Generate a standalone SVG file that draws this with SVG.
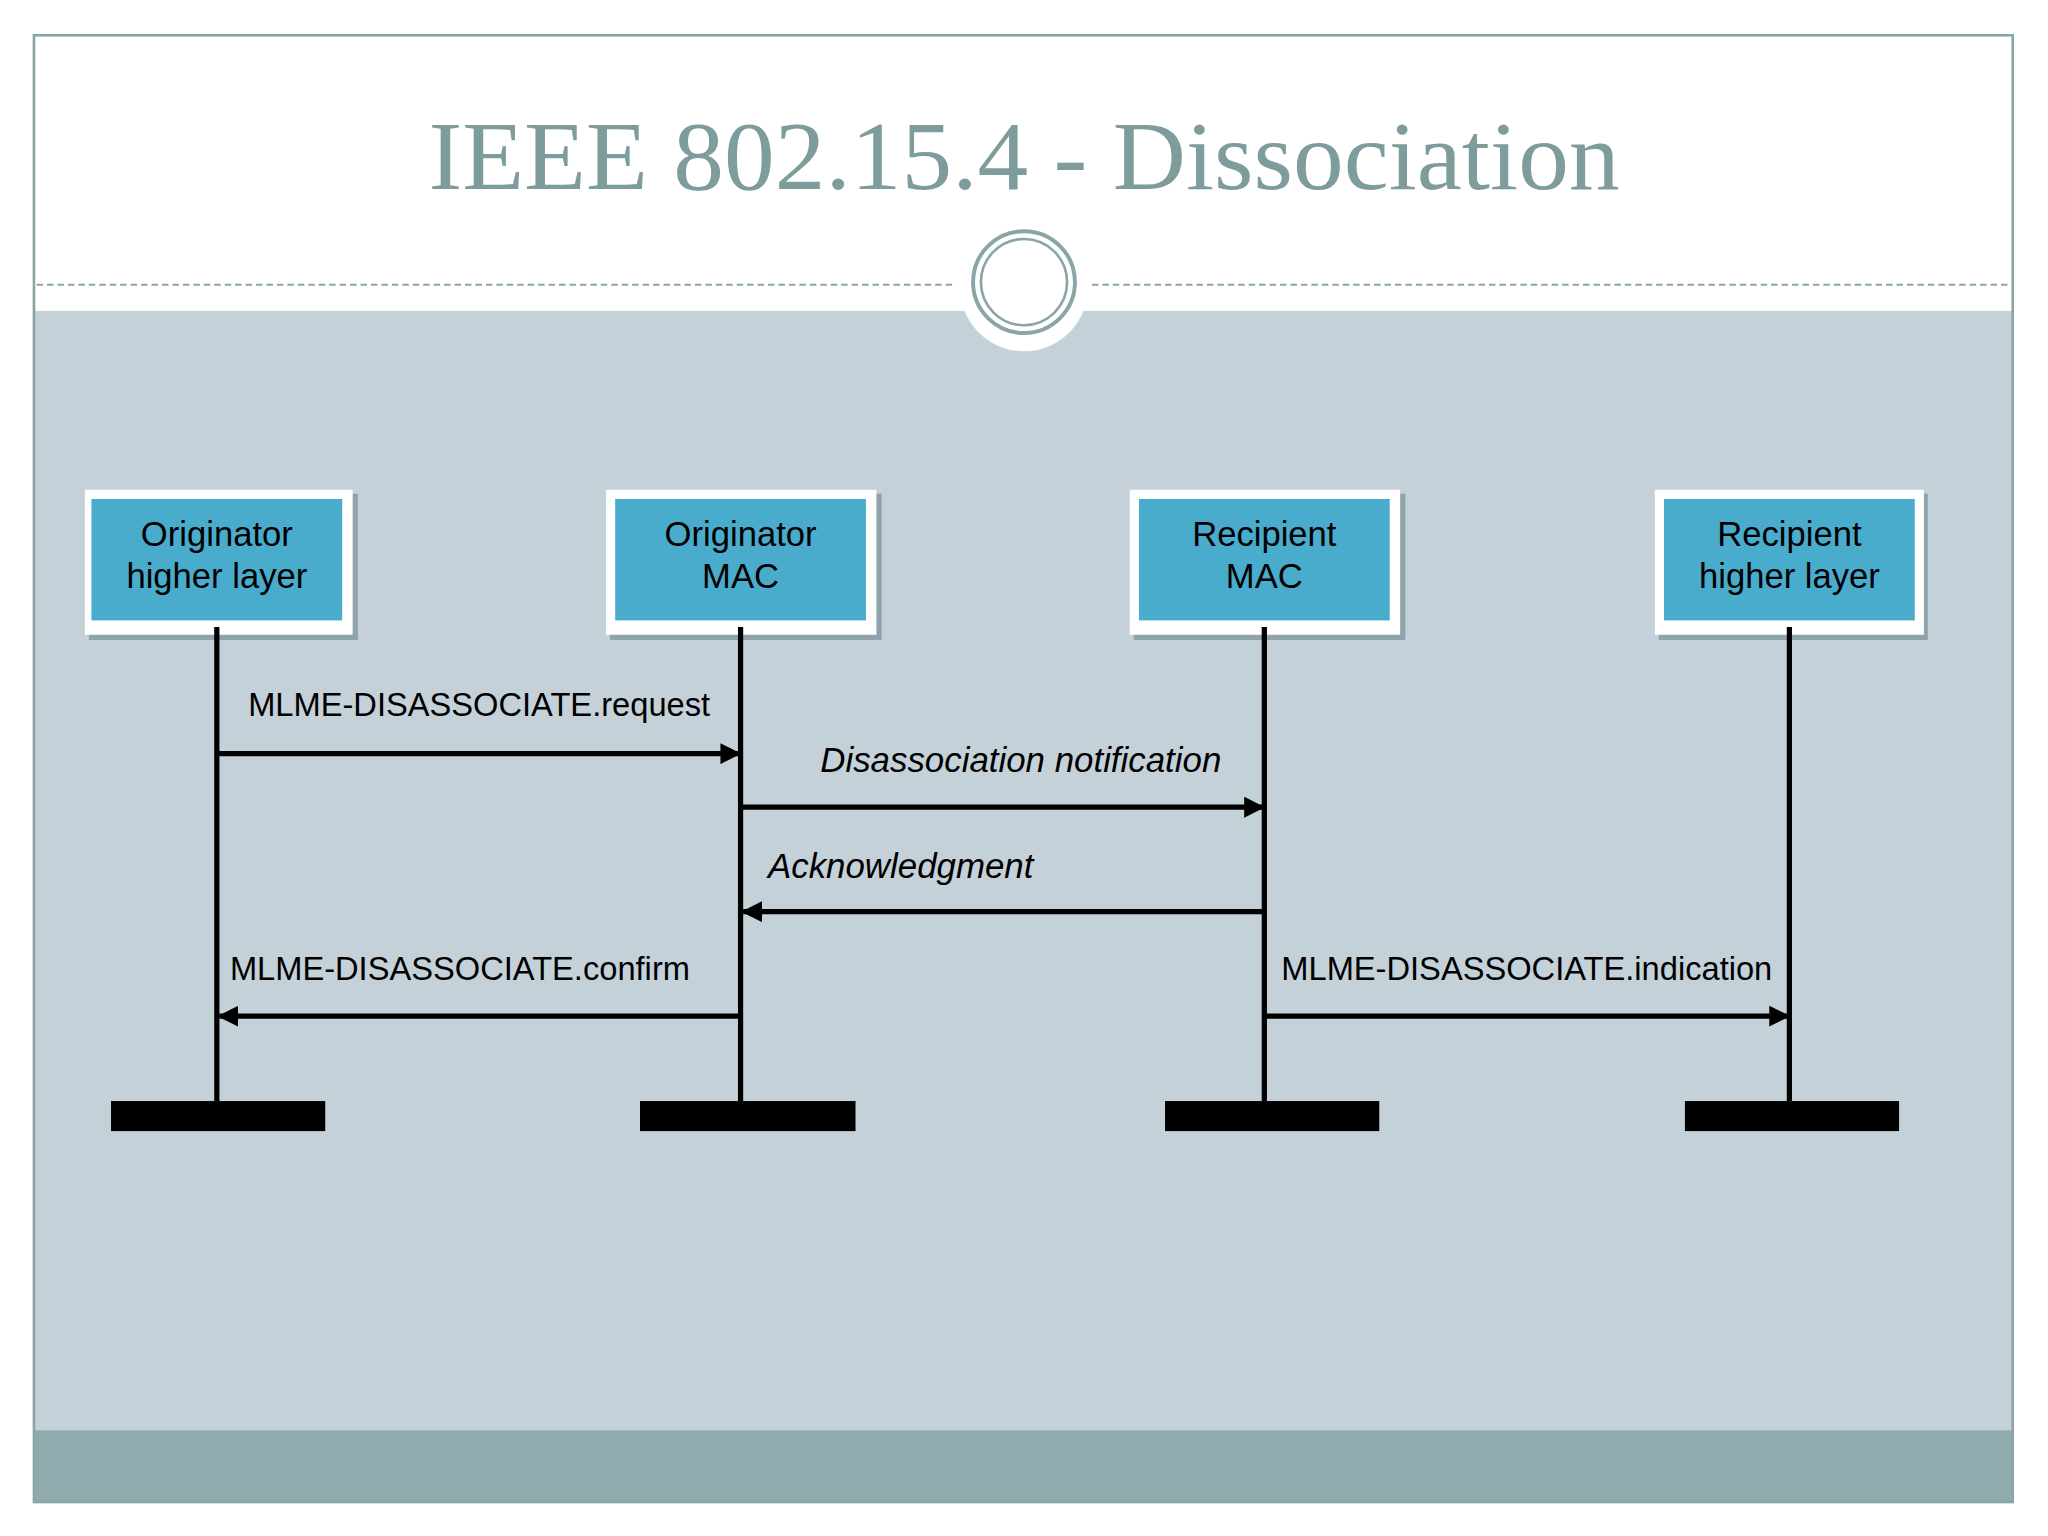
<svg xmlns="http://www.w3.org/2000/svg" width="2048" height="1536" viewBox="0 0 2048 1536">
<defs>
<style>
.lbl{font-family:"Liberation Sans",Arial,sans-serif;font-size:25px;fill:#000}
.it{font-style:italic;font-size:26.7px}
.bt{font-family:"Liberation Sans",Arial,sans-serif;font-size:26.5px;fill:#000;text-anchor:middle}
.ln{stroke:#000;stroke-width:4;fill:none}
.ar{stroke:#000;stroke-width:4;fill:none;marker-end:url(#ah)}
</style>
<marker id="ah" viewBox="0 0 10 10" refX="9" refY="5" markerWidth="4" markerHeight="4" orient="auto"><path d="M0,0L10,5L0,10z" fill="#000"/></marker>
</defs>
<rect width="2048" height="1536" fill="#fff"/>
<g transform="scale(1.30612)">
<rect x="26" y="238" width="1515" height="857" fill="#c5d1d8"/>
<rect x="26" y="1095" width="1515" height="55" fill="#8fabad"/>
<rect x="26" y="27" width="1515" height="1123" fill="none" stroke="#8aa5a5" stroke-width="2"/>
<path d="M28,218H730M836,218H1538" stroke="#8aa5a5" stroke-width="1.5" stroke-dasharray="5,3"/>
<circle cx="784" cy="220" r="49" fill="#fff"/>
<circle cx="784" cy="216" r="39" fill="none" stroke="#8aa5a5" stroke-width="3"/>
<circle cx="784" cy="216" r="33" fill="none" stroke="#8aa5a5" stroke-width="2"/>
<text x="784" y="145" text-anchor="middle" font-family="Liberation Serif,serif" font-size="74" textLength="912" lengthAdjust="spacingAndGlyphs" fill="#7f9c9c">IEEE 802.15.4 - Dissociation</text>
<g id="n1"><rect x="68" y="378" width="206" height="112" fill="#8fa3ad"/><rect x="65" y="375" width="205" height="111" fill="#fff"/><rect x="70" y="382" width="192" height="93" fill="#4aaccc"/><text class="bt" x="166" y="418">Originator</text><text class="bt" x="166" y="450">higher layer</text></g>
<g id="n2"><rect x="467" y="378" width="208" height="112" fill="#8fa3ad"/><rect x="464" y="375" width="207" height="111" fill="#fff"/><rect x="471" y="382" width="192" height="93" fill="#4aaccc"/><text class="bt" x="567" y="418">Originator</text><text class="bt" x="567" y="450">MAC</text></g>
<g id="n3"><rect x="868" y="378" width="208" height="112" fill="#8fa3ad"/><rect x="865" y="375" width="207" height="111" fill="#fff"/><rect x="872" y="382" width="192" height="93" fill="#4aaccc"/><text class="bt" x="968" y="418">Recipient</text><text class="bt" x="968" y="450">MAC</text></g>
<g id="n4"><rect x="1270" y="378" width="206" height="112" fill="#8fa3ad"/><rect x="1267" y="375" width="206" height="111" fill="#fff"/><rect x="1274" y="382" width="192" height="93" fill="#4aaccc"/><text class="bt" x="1370" y="418">Recipient</text><text class="bt" x="1370" y="450">higher layer</text></g>
<g id="bars" fill="#000"><rect x="85" y="843" width="164" height="23"/><rect x="490" y="843" width="165" height="23"/><rect x="892" y="843" width="164" height="23"/><rect x="1290" y="843" width="164" height="23"/></g>
<g id="connectors">
<path class="ln" d="M166,480V843M567,480V843M968,480V843M1370,480V843"/>
<path class="ar" d="M166,577H566"/>
<path class="ar" d="M567,618H967"/>
<path class="ar" d="M968,698H569"/>
<path class="ar" d="M567,778H168"/>
<path class="ar" d="M968,778H1369"/>
<text class="lbl" x="190" y="548">MLME-DISASSOCIATE.request</text>
<text class="lbl it" x="628" y="591">Disassociation notification</text>
<text class="lbl it" x="588" y="672">Acknowledgment</text>
<text class="lbl" x="176" y="750">MLME-DISASSOCIATE.confirm</text>
<text class="lbl" x="981" y="750">MLME-DISASSOCIATE.indication</text>
</g>
</g>
</svg>
